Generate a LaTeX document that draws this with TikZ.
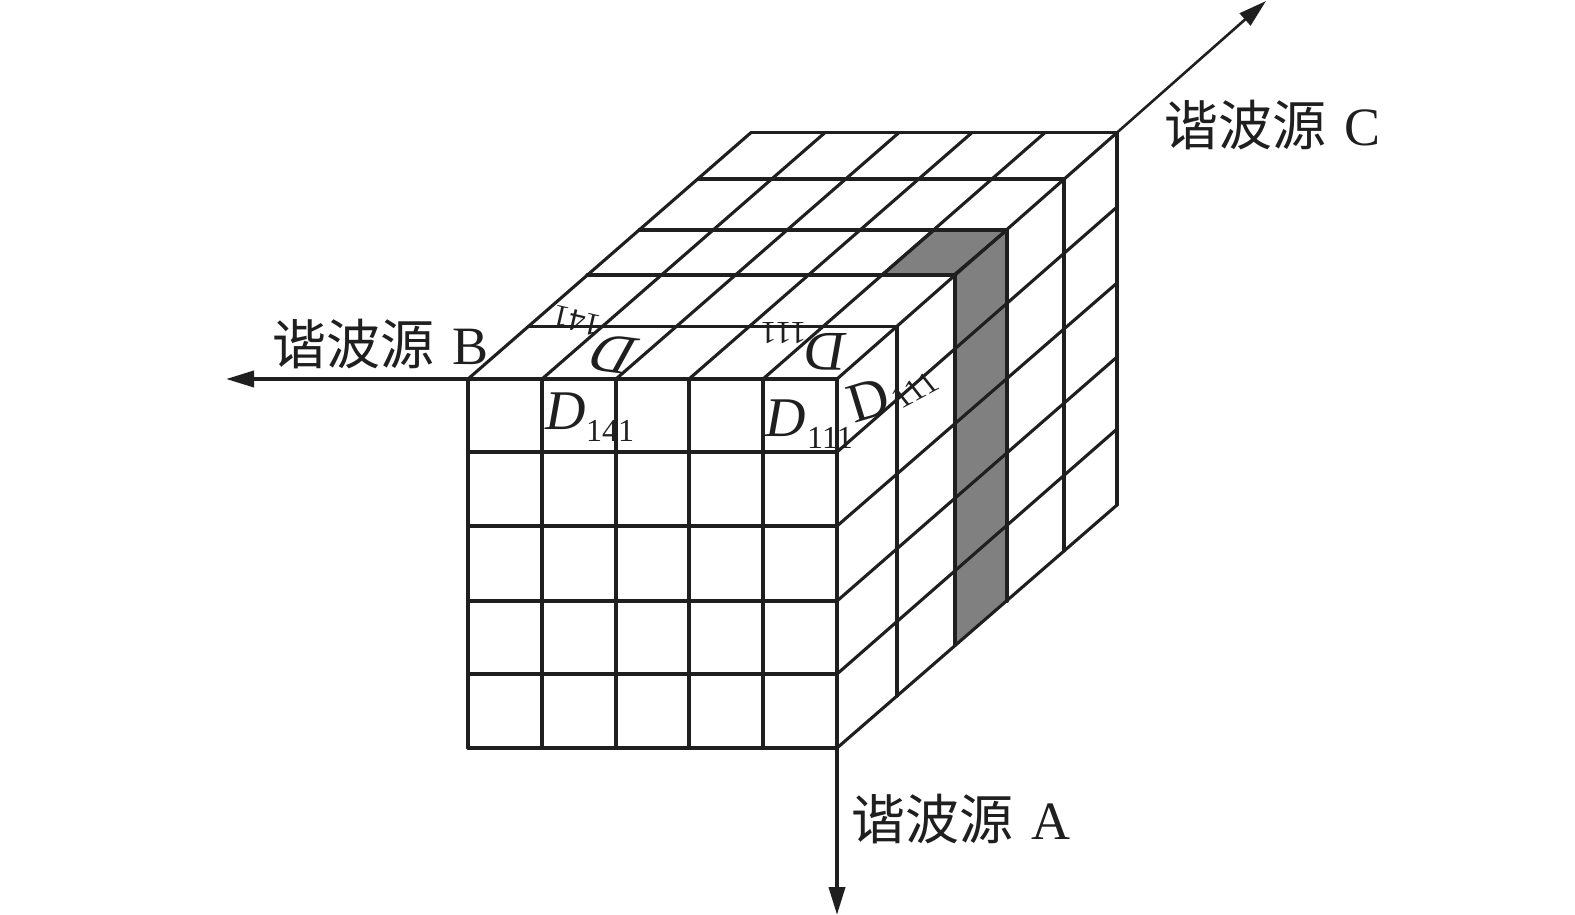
\documentclass[tikz,border=0pt]{standalone}
\usepackage{fontspec}
\setmainfont{Liberation Serif}
\newfontfamily\cjk{Noto Sans CJK SC}
\usetikzlibrary{arrows.meta}
\tikzset{
  gridline/.style={line width=1.55pt,draw=black!88,line cap=round},
  axisline/.style={line width=1.9pt,draw=black!88,-{Triangle[length=14pt,width=8pt]}},
  srclabel/.style={anchor=base west,inner sep=0pt,font=\fontsize{27}{27}\selectfont,text=black!88},
  dlabel/.style={inner sep=0pt,font=\fontsize{28}{28}\selectfont,text=black!88},
  sublabel/.style={inner sep=0pt,font=\fontsize{16}{16}\selectfont,text=black!88}
}
\newcommand{\srctext}[1]{{\cjk 谐波源}\hspace{0.33em}#1}
\begin{document}
\begin{tikzpicture}[x=0.5pt,y=-0.5pt]
\useasboundingbox (0,0) rectangle (1575,915);
% named corners of the block
\coordinate (FTL) at (468,379);
\coordinate (FBR) at (837,748);
\coordinate (BTR) at (1117,132.6);
\coordinate (AEnd) at (837,915);
\coordinate (BEnd) at (226,379);
\coordinate (CEnd) at (1266,1);
% shaded slice
\fill[black!50] (934,230) -- (1007,230) -- (1007,601) -- (954,645) -- (954,275) -- (882,275) -- cycle;
\draw[gridline] (882,275) -- (934,230) -- (1007,230);
\draw[gridline,line width=2pt] (1007,230) -- (1007,601);
\draw[gridline] (954,275) -- (1007,230);
% front face
\foreach \x in {468,542,616,689,763,837} \draw[gridline] (\x,379) -- (\x,748);
\foreach \y in {379,452,526,601,674,748} \draw[gridline] (468,\y) -- (837,\y);
% top face: depth lines
\draw[gridline] (468,379) -- (751,132.6);
\draw[gridline] (542,379) -- (825,132.6);
\draw[gridline] (616,379) -- (899,132.6);
\draw[gridline] (689,379) -- (972,132.6);
\draw[gridline] (763,379) -- (1045,132.6);
\draw[gridline] (837,379) -- (1117,132.6);
% top face: cross lines
\draw[gridline] (751,132.6) -- (1117,132.6);
\draw[gridline] (698,179) -- (1064,179);
\draw[gridline] (639,230) -- (1006,230);
\draw[gridline] (587,275) -- (955,275);
\draw[gridline] (528,326.5) -- (897,326.5);
% side face: verticals
\draw[gridline] (897,326.5) -- (897,696);
\draw[gridline] (955,275) -- (955,645);
\draw[gridline] (1064,179) -- (1064,551);
\draw[gridline] (1117,132.6) -- (1117,505);
% side face: depth lines
\draw[gridline] (837,452) -- (1117,207);
\draw[gridline] (837,526) -- (1117,283);
\draw[gridline] (837,601) -- (1117,357);
\draw[gridline] (837,674) -- (1117,429);
\draw[gridline] (837,748) -- (1117,505);
% axes
\draw[axisline] (FBR) -- (AEnd);
\draw[axisline] (FTL) -- (BEnd);
\draw[axisline,line width=1.3pt] (BTR) -- (CEnd);
% source labels
\node[srclabel] (srcA) at (851,839) {\srctext{A}};
\node[srclabel] (srcB) at (272,364) {\srctext{B}};
\node[srclabel] (srcC) at (1164,146) {\srctext{C}};
% front labels
\node[dlabel] (d141) at (566,411) {\textit{D}};
\node[sublabel] (s141) at (610,431) {141};
\node[dlabel] (d111) at (786,418) {\textit{D}};
\node[sublabel] (s111) at (830,438) {111};
% top labels (seen from behind)
\node[dlabel,rotate=173,xslant=0.4] (t141) at (612.5,354) {D};
\node[sublabel,rotate=167] (u141) at (577,321) {141};
\node[dlabel,rotate=180] (t111) at (826,351.5) {\textit{D}};
\node[sublabel,rotate=180] (u111) at (783.5,333) {111};
% side labels
\node[dlabel,rotate=17] (r111) at (868,400) {D};
\node[sublabel,rotate=28,xslant=-0.18] (v111) at (915,390) {111};
\end{tikzpicture}
\end{document}
